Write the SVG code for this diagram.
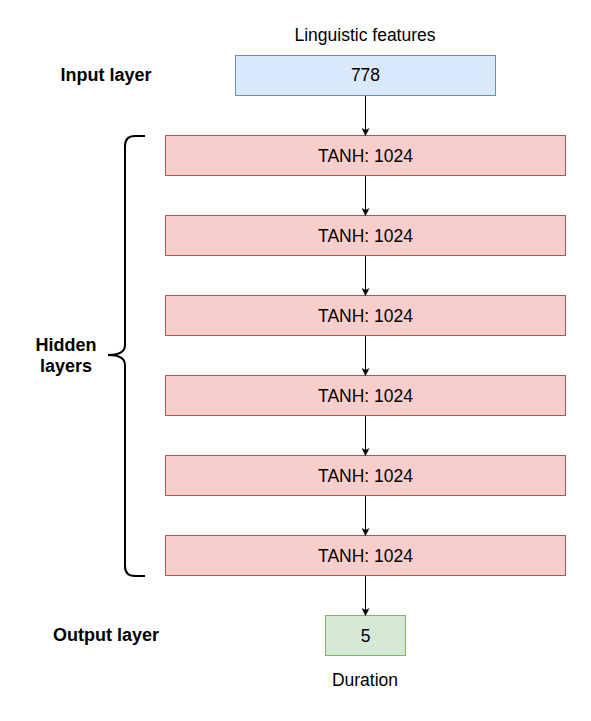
<svg xmlns="http://www.w3.org/2000/svg" width="591" height="721" viewBox="0 0 591 721">
<style>
text{font-family:"Liberation Sans",Arial,sans-serif;font-size:17.5px;fill:#000;text-anchor:middle}
.b{font-weight:bold;font-size:18px}
.in{fill:#dae8fc;stroke:#6c8ebf}
.hid{fill:#f8cecc;stroke:#b85450}
.out{fill:#d5e8d4;stroke:#82b366}
.c{stroke:#000;stroke-width:1;fill:none}
</style>
<defs>
<marker id="ah" markerWidth="8" markerHeight="8" viewBox="0 0 8 8" refX="7" refY="4" orient="auto" markerUnits="userSpaceOnUse">
<path d="M0,0 L8,4 L0,8 L2,4 Z" fill="#000"/>
</marker>
</defs>
<rect width="591" height="721" fill="#fff"/>
<text x="365" y="41">Linguistic features</text>
<text class="b" x="106" y="81">Input layer</text>
<g id="input"><rect class="in" x="235.5" y="55.5" width="260" height="40"/><text x="365.5" y="81">778</text></g>
<g id="h1"><rect class="hid" x="165.5" y="135.5" width="400" height="40"/><text x="365.5" y="161.5">TANH: 1024</text></g>
<g id="h2"><rect class="hid" x="165.5" y="215.5" width="400" height="40"/><text x="365.5" y="241.5">TANH: 1024</text></g>
<g id="h3"><rect class="hid" x="165.5" y="295.5" width="400" height="40"/><text x="365.5" y="321.5">TANH: 1024</text></g>
<g id="h4"><rect class="hid" x="165.5" y="375.5" width="400" height="40"/><text x="365.5" y="401.5">TANH: 1024</text></g>
<g id="h5"><rect class="hid" x="165.5" y="455.5" width="400" height="40"/><text x="365.5" y="481.5">TANH: 1024</text></g>
<g id="h6"><rect class="hid" x="165.5" y="535.5" width="400" height="40"/><text x="365.5" y="561.5">TANH: 1024</text></g>
<g id="output"><rect class="out" x="325.5" y="615.5" width="80" height="40"/><text x="365.5" y="641.5">5</text></g>
<text x="365" y="686">Duration</text>
<text class="b" x="106" y="641">Output layer</text>
<g id="brace">
<path d="M145,136 L135,136 Q125,136 125,146 L125,345 Q125,355 108,355 Q125,355 125,365 L125,566 Q125,576 135,576 L145,576" fill="none" stroke="#000" stroke-width="2"/>
<text class="b" x="66" y="351">Hidden</text>
<text class="b" x="66" y="372">layers</text>
</g>
<g id="connectors">
<line class="c" x1="365.5" y1="96" x2="365.5" y2="135" marker-end="url(#ah)"/>
<line class="c" x1="365.5" y1="176" x2="365.5" y2="215" marker-end="url(#ah)"/>
<line class="c" x1="365.5" y1="256" x2="365.5" y2="295" marker-end="url(#ah)"/>
<line class="c" x1="365.5" y1="336" x2="365.5" y2="375" marker-end="url(#ah)"/>
<line class="c" x1="365.5" y1="416" x2="365.5" y2="455" marker-end="url(#ah)"/>
<line class="c" x1="365.5" y1="496" x2="365.5" y2="535" marker-end="url(#ah)"/>
<line class="c" x1="365.5" y1="576" x2="365.5" y2="615" marker-end="url(#ah)"/>
</g>
</svg>
